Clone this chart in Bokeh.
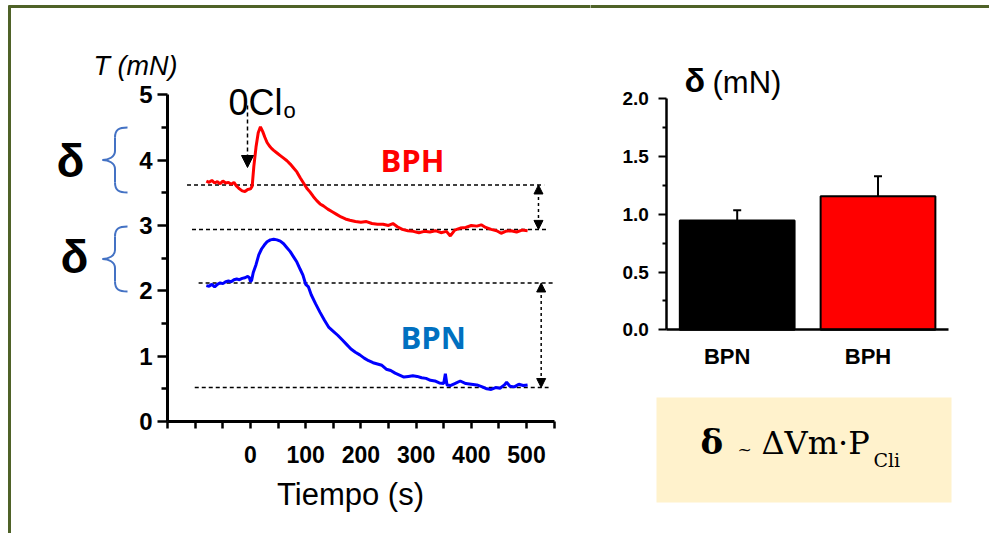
from bokeh.plotting import figure
from bokeh.models import (Range1d, LinearAxis, FixedTicker, Arrow, NormalHead,
                          TeeHead, Whisker, ColumnDataSource, PrintfTickFormatter)
from bokeh.layouts import row
from bokeh.embed import file_html
from bokeh.resources import INLINE
from bokeh.core.properties import value

# ---------------- data ----------------
bph_t = [-80, -75, -70, -65, -60, -55, -50, -45, -40, -35, -30, -25, -20, -15, -10, -5, 0, 3,
         6, 10, 14, 18, 22, 26, 30, 34, 38, 42, 48, 54, 60, 66, 72, 78, 84, 90, 96, 102,
         108, 114, 120, 126, 132, 140, 148, 156, 164, 172, 180, 190, 200, 210, 220, 230,
         240, 250, 258, 266, 275, 285, 295, 305, 315, 325, 335, 345, 355, 362, 370, 380,
         390, 400, 410, 418, 426, 436, 446, 454, 462, 472, 482, 492, 502]
bph_T = [3.68, 3.66, 3.69, 3.65, 3.67, 3.64, 3.68, 3.65, 3.66, 3.63, 3.66, 3.60, 3.56, 3.53,
         3.52, 3.55, 3.56, 3.60, 3.90, 4.20, 4.42, 4.51, 4.44, 4.35, 4.27, 4.22, 4.18, 4.15,
         4.11, 4.07, 4.03, 3.99, 3.94, 3.88, 3.82, 3.73, 3.65, 3.57, 3.51, 3.44, 3.38, 3.33,
         3.30, 3.25, 3.21, 3.17, 3.13, 3.10, 3.08, 3.06, 3.05, 3.06, 3.03, 3.02, 3.02, 3.00,
         3.03, 2.98, 2.94, 2.92, 2.91, 2.89, 2.91, 2.90, 2.92, 2.89, 2.91, 2.84, 2.93, 2.96,
         2.97, 3.00, 2.99, 3.01, 2.97, 2.94, 2.92, 2.88, 2.91, 2.92, 2.90, 2.93, 2.92]

bpn_t = [-80, -75, -70, -65, -60, -55, -50, -45, -40, -35, -30, -25, -20, -15, -10, -5, -2, 0,
         2, 5, 10, 15, 20, 25, 30, 36, 42, 48, 54, 60, 66, 72, 78, 84, 90, 95, 100, 105, 110,
         118, 126, 134, 142, 150, 158, 166, 174, 182, 190, 198, 206, 214, 222, 230, 238, 246,
         254, 262, 270, 278, 286, 294, 302, 310, 318, 326, 334, 342, 350, 353, 356, 362, 370,
         380, 390, 400, 410, 420, 428, 436, 444, 452, 460, 464, 470, 478, 486, 494, 502]
bpn_T = [2.08, 2.07, 2.10, 2.06, 2.10, 2.12, 2.11, 2.14, 2.15, 2.14, 2.17, 2.18, 2.17, 2.19,
         2.20, 2.22, 2.20, 2.14, 2.16, 2.28, 2.40, 2.55, 2.64, 2.70, 2.75, 2.78, 2.79, 2.78,
         2.76, 2.72, 2.66, 2.60, 2.52, 2.44, 2.33, 2.24, 2.10, 2.06, 1.94, 1.80, 1.67, 1.55,
         1.44, 1.38, 1.32, 1.25, 1.18, 1.11, 1.06, 1.02, 0.97, 0.93, 0.90, 0.88, 0.86, 0.80,
         0.78, 0.74, 0.71, 0.68, 0.69, 0.70, 0.69, 0.67, 0.66, 0.63, 0.62, 0.59, 0.58, 0.73,
         0.56, 0.55, 0.58, 0.62, 0.58, 0.57, 0.56, 0.53, 0.50, 0.49, 0.52, 0.51, 0.56, 0.60,
         0.54, 0.53, 0.57, 0.55, 0.56]

bph_levels = [3.62, 2.94]
bpn_levels = [2.12, 0.52]
time_ticks = [0, 100, 200, 300, 400, 500]
time_minor = [-150, -100, -50, 50, 150, 250, 350, 450, 550]
tension_ticks = [0, 1, 2, 3, 4, 5]
tension_minor = [0.5, 1.5, 2.5, 3.5, 4.5]

groups = ["BPN", "BPH"]
delta_mean = [0.946, 1.157]
delta_err = [0.09, 0.173]
bar_colors = ["black", "#FF0000"]
delta_ticks = [0.0, 0.5, 1.0, 1.5, 2.0]
delta_minor = [0.25, 0.75, 1.25, 1.75]

# ---------------- helpers (pixel -> data for decorations) ----------------
W_L, W_R, H = 590, 399, 533
SX, SY = 0.552, 65.34


def X(px):
    return (px - 250) / SX


def Y(py):
    return (421 - py) / SY


def XB(px):
    return 1 + (px - 736.7) / 140.8


def YB(py):
    return (329.3 - py) / 115.5


GREEN = "#4F6228"
SANS = "Liberation Sans"


def txt(p, x, y, s, size, style="normal", color="black", align="left",
        baseline="alphabetic", font=SANS):
    p.text(x=[x], y=[y], text=[s], text_font=value(font), text_font_size=size,
           text_font_style=style, text_color=color, text_align=align,
           text_baseline=baseline)


def brace(p, xt, xe, yt, yb, color):
    ym = (yt + yb) / 2
    xm = (xt + xe) / 2
    segs = [
        ((xe, yt), (xm, yt + 10), (xm + 4, yt), (xm, yt + 2)),
        ((xm, ym - 9), (xt, ym), (xm, ym - 3), (xt + 6, ym)),
        ((xt, ym), (xm, ym + 9), (xt + 6, ym), (xm, ym + 3)),
        ((xm, yb - 10), (xe, yb), (xm, yb - 2), (xm + 4, yb)),
    ]
    p.bezier(x0=[X(s[0][0]) for s in segs], y0=[Y(s[0][1]) for s in segs],
             x1=[X(s[1][0]) for s in segs], y1=[Y(s[1][1]) for s in segs],
             cx0=[X(s[2][0]) for s in segs], cy0=[Y(s[2][1]) for s in segs],
             cx1=[X(s[3][0]) for s in segs], cy1=[Y(s[3][1]) for s in segs],
             line_color=color, line_width=2)
    p.segment(x0=[X(xm), X(xm)], y0=[Y(yt + 10), Y(ym + 9)],
              x1=[X(xm), X(xm)], y1=[Y(ym - 9), Y(yb - 10)],
              line_color=color, line_width=2)


# ---------------- left: tension traces ----------------
pl = figure(width=W_L, height=H, output_backend="svg", toolbar_location=None,
            x_range=Range1d(X(0), X(W_L)), y_range=Range1d(Y(H), Y(0)),
            x_axis_location=None, y_axis_location=None, min_border=0)
pl.grid.visible = False
pl.outline_line_color = None
pl.background_fill_color = "white"
pl.border_fill_color = "white"

# border of the panel
pl.segment(x0=[X(8), X(9)], y0=[Y(6), Y(5)], x1=[X(W_L + 2), X(9)], y1=[Y(6), Y(H)],
           line_color=GREEN, line_width=3)

xax = LinearAxis(fixed_location=0, bounds=(-150, 550),
                 ticker=FixedTicker(ticks=time_ticks, minor_ticks=time_minor),
                 axis_line_width=3, major_tick_line_width=2.5, minor_tick_line_width=2.5,
                 major_tick_out=7, major_tick_in=0, minor_tick_out=7, minor_tick_in=0,
                 major_label_standoff=17, major_label_text_font=SANS,
                 major_label_text_font_style="bold", major_label_text_font_size="23px",
                 major_label_text_color="black")
pl.add_layout(xax, "below")
yax = LinearAxis(fixed_location=-150, bounds=(0, 5),
                 ticker=FixedTicker(ticks=tension_ticks, minor_ticks=tension_minor),
                 axis_line_width=3, major_tick_line_width=2.5, minor_tick_line_width=2.5,
                 major_tick_out=10, major_tick_in=0, minor_tick_out=6, minor_tick_in=0,
                 major_label_standoff=5, major_label_text_font=SANS,
                 major_label_text_font_style="bold", major_label_text_font_size="24px",
                 major_label_text_color="black")
pl.add_layout(yax, "left")

# reference dashed levels
pl.segment(x0=[-115, -106, -94, -101], y0=bph_levels + bpn_levels,
           x1=[532, 538, 549, 540], y1=bph_levels + bpn_levels,
           line_color="black", line_width=1.5, line_dash="4 3")

pl.line(bph_t, bph_T, line_color="#FF0000", line_width=3)
pl.line(bpn_t, bpn_T, line_color="#0000FF", line_width=3)

for xx, lv in ((521.7, bph_levels), (526.6, bpn_levels)):
    pl.add_layout(Arrow(x_start=xx, y_start=lv[0], x_end=xx, y_end=lv[1],
                        start=NormalHead(size=9, fill_color="black", line_color="black"),
                        end=NormalHead(size=9, fill_color="black", line_color="black"),
                        line_dash="3 3", line_width=1.5))

pl.add_layout(Arrow(x_start=X(247), y_start=Y(105), x_end=X(247), y_end=Y(167),
                    end=NormalHead(size=12, fill_color="black", line_color="black"),
                    line_dash="4 3", line_width=1.5))

txt(pl, X(228), Y(102), "0Cl", "36px")
txt(pl, X(283), Y(110), "o", "22px")
txt(pl, X(93), Y(65), "T (mN)", "27px", style="italic")
txt(pl, X(350), Y(494), "Tiempo (s)", "31px", align="center")
txt(pl, X(380), Y(159), "BPH", "31px", style="bold", color="#FF0000", font="Open Sans")
txt(pl, X(400), Y(336), "BPN", "31px", style="bold", color="#0070C0", font="Open Sans")
txt(pl, X(70), Y(160), "δ", "46px", style="bold", align="center")
txt(pl, X(74), Y(256), "δ", "46px", style="bold", align="center")
brace(pl, 102, 127, 127, 192, "#4472C4")
brace(pl, 102, 127, 226, 291, "#4472C4")

# ---------------- right: delta bars ----------------
pr = figure(width=W_R, height=H, output_backend="svg", toolbar_location=None,
            x_range=Range1d(XB(W_L), XB(W_L + W_R)), y_range=Range1d(YB(H), YB(0)),
            x_axis_location=None, y_axis_location=None, min_border=0)
pr.grid.visible = False
pr.outline_line_color = None
pr.background_fill_color = "white"
pr.border_fill_color = "white"

pr.segment(x0=[XB(W_L - 2)], y0=[YB(6)], x1=[XB(W_L + W_R)], y1=[YB(6)],
           line_color=GREEN, line_width=3)

bx = list(range(1, len(groups) + 1))
src = ColumnDataSource(dict(x=bx, top=delta_mean, color=bar_colors,
                            upper=[m + e for m, e in zip(delta_mean, delta_err)]))
pr.add_layout(Whisker(source=src, base="x", upper="upper", lower="top",
                      upper_head=TeeHead(size=8, line_width=2), lower_head=None,
                      line_width=2, line_color="black"))
pr.vbar(x="x", top="top", width=0.815, bottom=0, fill_color="color",
        line_color="black", line_width=2, source=src)

bxax = LinearAxis(fixed_location=0, bounds=(0.5, 2.5),
                  ticker=FixedTicker(ticks=[], minor_ticks=[]),
                  axis_line_width=2.5, major_tick_out=0, minor_tick_out=0)
pr.add_layout(bxax, "below")
byax = LinearAxis(fixed_location=0.5, bounds=(0, 2),
                  ticker=FixedTicker(ticks=delta_ticks, minor_ticks=delta_minor),
                  formatter=PrintfTickFormatter(format="%.1f"),
                  axis_line_width=2.5, major_tick_line_width=2, minor_tick_line_width=2,
                  major_tick_out=8, major_tick_in=0, minor_tick_out=4, minor_tick_in=0,
                  major_label_standoff=10, major_label_text_font=SANS,
                  major_label_text_font_style="bold", major_label_text_font_size="19px",
                  major_label_text_color="black")
pr.add_layout(byax, "left")

for i, g in enumerate(groups):
    pr.text(x=[bx[i]], y=[YB(356)], text=[g], x_offset=-10, text_font=value(SANS),
            text_font_size="22px", text_font_style="bold", text_color="black",
            text_align="center", text_baseline="alphabetic")

pr.text(x=[XB(684)], y=[YB(98)], text=["δ"], text_font=value(SANS), text_font_size="34px",
        text_font_style="bold", text_color="black")
pr.text(x=[XB(712)], y=[YB(99)], text=["(mN)"], text_font=value(SANS), text_font_size="31px",
        text_color="black")

# formula box
pr.quad(left=[XB(656)], right=[XB(951)], top=[YB(397)], bottom=[YB(502)],
        fill_color="#FFF2CC", line_color=None)
pr.text(x=[XB(700)], y=[YB(461)], text=["δ"], text_font=value("DejaVu Serif"),
        text_font_size="34px", text_font_style="bold", text_color="black")
pr.text(x=[XB(737)], y=[YB(458)], text=["~"], text_font=value("DejaVu Serif"),
        text_font_size="17px", text_color="black")
pr.text(x=[XB(761)], y=[YB(461)], text=["ΔVm·P"], text_font=value("DejaVu Serif"),
        text_font_size="32px", text_color="black")
pr.text(x=[XB(873)], y=[YB(470)], text=["Cli"], text_font=value("DejaVu Serif"),
        text_font_size="19px", text_color="black")

layout = row(pl, pr, spacing=0)
open("out.html", "w").write(file_html(layout, INLINE))
